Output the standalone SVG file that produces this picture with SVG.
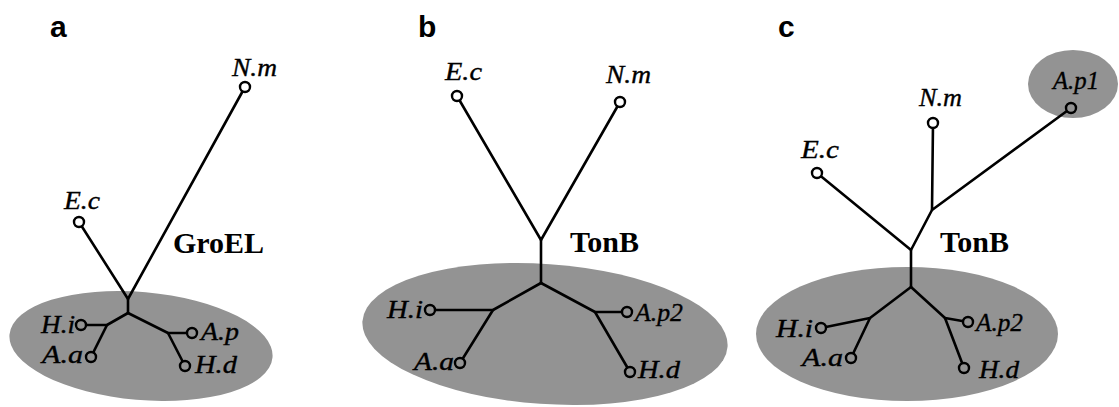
<svg xmlns="http://www.w3.org/2000/svg" width="1119" height="407" viewBox="0 0 1119 407">
<style>
.bg{fill:#ffffff}
.blob{fill:#939393;stroke:none}
.edge{stroke:#000;stroke-width:2.6;fill:none;stroke-linecap:round;stroke-linejoin:round}
.tipw{fill:#ffffff;stroke:#000;stroke-width:2.4}
.tipg{fill:#939393;stroke:#000;stroke-width:2.4}
.lab{font-family:"Liberation Serif",serif;font-style:italic;font-size:25px;fill:#000;stroke:#000;stroke-width:0.35}
.big{font-family:"Liberation Serif",serif;font-weight:bold;font-size:30px;fill:#000}
.pan{font-family:"Liberation Sans",sans-serif;font-weight:bold;font-size:30px;fill:#000}
</style>
<rect class="bg" x="0" y="0" width="1119" height="407"/>

<!-- Panel a -->
<g id="panel-a">
  <text class="pan" x="50" y="37">a</text>
  <ellipse id="a-cluster" class="blob" cx="141" cy="346" rx="132" ry="54" transform="rotate(5 141 346)"/>
  <text class="big" x="173" y="253">GroEL</text>
</g>
<g id="a-connectors">
  <polyline class="edge" points="79,222 128,299 245,87"/>
  <line class="edge" x1="128" y1="299" x2="128" y2="313"/>
  <polyline class="edge" points="128,313 107,325 81,325"/>
  <line class="edge" x1="107" y1="325" x2="91" y2="357"/>
  <polyline class="edge" points="128,313 168,333 192,333"/>
  <line class="edge" x1="168" y1="333" x2="185" y2="366"/>
</g>
<g id="a-Nm"><circle class="tipw" cx="245" cy="87" r="5"/><text class="lab" x="232" y="76" textLength="45" lengthAdjust="spacingAndGlyphs">N.m</text></g>
<g id="a-Ec"><circle class="tipw" cx="79" cy="222" r="5"/><text class="lab" x="64" y="209" textLength="36" lengthAdjust="spacingAndGlyphs">E.c</text></g>
<g id="a-Hi"><circle class="tipg" cx="81" cy="325" r="5"/><text class="lab" x="41" y="333" textLength="34" lengthAdjust="spacingAndGlyphs">H.i</text></g>
<g id="a-Aa"><circle class="tipg" cx="91" cy="357" r="5"/><text class="lab" x="42" y="363" textLength="41" lengthAdjust="spacingAndGlyphs">A.a</text></g>
<g id="a-Ap"><circle class="tipg" cx="192" cy="333" r="5"/><text class="lab" x="201" y="340" textLength="38" lengthAdjust="spacingAndGlyphs">A.p</text></g>
<g id="a-Hd"><circle class="tipg" cx="185" cy="366" r="5"/><text class="lab" x="195" y="373" textLength="42" lengthAdjust="spacingAndGlyphs">H.d</text></g>

<!-- Panel b -->
<g id="panel-b">
  <text class="pan" x="418" y="37">b</text>
  <ellipse id="b-cluster" class="blob" cx="545" cy="334" rx="183" ry="70" transform="rotate(4 545 334)"/>
  <text class="big" x="570" y="252">TonB</text>
</g>
<g id="b-connectors">
  <polyline class="edge" points="457,96 541,240 620,102"/>
  <line class="edge" x1="541" y1="240" x2="541" y2="283"/>
  <polyline class="edge" points="541,283 493,310 430,310"/>
  <line class="edge" x1="493" y1="310" x2="460" y2="363"/>
  <polyline class="edge" points="541,283 595,312 627,312"/>
  <line class="edge" x1="595" y1="312" x2="630" y2="372"/>
</g>
<g id="b-Ec"><circle class="tipw" cx="457" cy="96" r="5"/><text class="lab" x="445" y="80" textLength="37" lengthAdjust="spacingAndGlyphs">E.c</text></g>
<g id="b-Nm"><circle class="tipw" cx="620" cy="102" r="5"/><text class="lab" x="606" y="83" textLength="45" lengthAdjust="spacingAndGlyphs">N.m</text></g>
<g id="b-Hi"><circle class="tipg" cx="430" cy="310" r="5"/><text class="lab" x="387" y="318" textLength="36" lengthAdjust="spacingAndGlyphs">H.i</text></g>
<g id="b-Aa"><circle class="tipg" cx="460" cy="363" r="5"/><text class="lab" x="414" y="370" textLength="40" lengthAdjust="spacingAndGlyphs">A.a</text></g>
<g id="b-Ap2"><circle class="tipg" cx="627" cy="312" r="5"/><text class="lab" x="635" y="321" textLength="48" lengthAdjust="spacingAndGlyphs">A.p2</text></g>
<g id="b-Hd"><circle class="tipg" cx="630" cy="372" r="5"/><text class="lab" x="638" y="378" textLength="42" lengthAdjust="spacingAndGlyphs">H.d</text></g>

<!-- Panel c -->
<g id="panel-c">
  <text class="pan" x="778" y="37">c</text>
  <ellipse id="c-cluster" class="blob" cx="907" cy="334" rx="151" ry="67"/>
  <ellipse id="c-cluster2" class="blob" cx="1073" cy="84" rx="45" ry="34"/>
  <text class="big" x="940" y="252">TonB</text>
</g>
<g id="c-connectors">
  <polyline class="edge" points="933,123 932,210 1071,108"/>
  <polyline class="edge" points="932,210 911,250 817,173"/>
  <line class="edge" x1="911" y1="250" x2="911" y2="287"/>
  <polyline class="edge" points="911,287 870,318 821,328"/>
  <line class="edge" x1="870" y1="318" x2="851" y2="358"/>
  <polyline class="edge" points="911,287 945,318 968,322"/>
  <line class="edge" x1="945" y1="318" x2="964" y2="368"/>
</g>
<g id="c-Ap1"><circle class="tipg" cx="1071" cy="108" r="5"/><text class="lab" x="1053" y="89" textLength="46" lengthAdjust="spacingAndGlyphs">A.p1</text></g>
<g id="c-Nm"><circle class="tipw" cx="933" cy="123" r="5"/><text class="lab" x="919" y="106" textLength="43" lengthAdjust="spacingAndGlyphs">N.m</text></g>
<g id="c-Ec"><circle class="tipw" cx="817" cy="173" r="5"/><text class="lab" x="801" y="158" textLength="38" lengthAdjust="spacingAndGlyphs">E.c</text></g>
<g id="c-Hi"><circle class="tipg" cx="821" cy="328" r="5"/><text class="lab" x="776" y="337" textLength="37" lengthAdjust="spacingAndGlyphs">H.i</text></g>
<g id="c-Aa"><circle class="tipg" cx="851" cy="358" r="5"/><text class="lab" x="802" y="366" textLength="41" lengthAdjust="spacingAndGlyphs">A.a</text></g>
<g id="c-Ap2"><circle class="tipg" cx="968" cy="322" r="5"/><text class="lab" x="976" y="331" textLength="47" lengthAdjust="spacingAndGlyphs">A.p2</text></g>
<g id="c-Hd"><circle class="tipg" cx="964" cy="368" r="5"/><text class="lab" x="979" y="378" textLength="40" lengthAdjust="spacingAndGlyphs">H.d</text></g>
</svg>
